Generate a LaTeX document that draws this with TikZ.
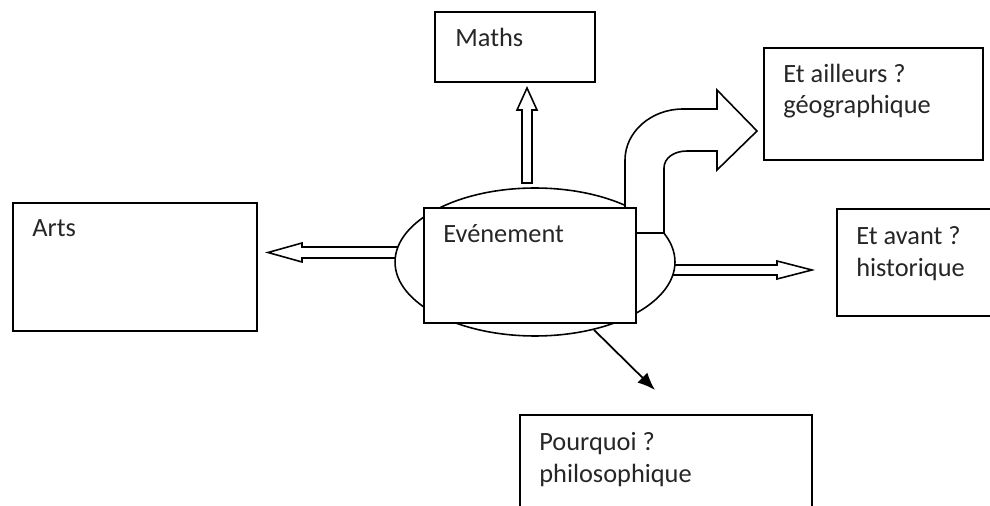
\documentclass[tikz,border=0pt]{standalone}
\usepackage{fontspec}
\setmainfont{Carlito}
\usetikzlibrary{shapes.geometric, arrows.meta}

\tikzset{
    box/.style={draw, line width=0.9pt, rectangle, inner sep=0pt, anchor=north west, fill=white},
    txt/.style={anchor=base west, inner sep=0pt, text=black!85, font=\fontsize{15}{18}\selectfont},
    hollow/.style={draw, line width=0.9pt, fill=white, line join=miter},
}

\begin{document}
\begin{tikzpicture}[x=0.02cm, y=-0.02cm]
    \clip (0,0) rectangle (990,506);
    \fill[white] (0,0) rectangle (990,506);

    % boxes
    \node[box, minimum width=3.2cm, minimum height=1.4cm] (maths) at (434,11) {};
    \node[box, minimum width=4.88cm, minimum height=2.56cm] (arts) at (12,202) {};
    \node[box, minimum width=4.38cm, minimum height=2.24cm] (ailleurs) at (763,47) {};
    \node[box, minimum width=3.4cm, minimum height=2.14cm] (avant) at (836,208) {};
    \node[box, minimum width=5.84cm, minimum height=2.2cm] (pourquoi) at (519,414) {};

    % block arrows
    \coordinate (upTail) at (522,183);
    \draw[hollow] (upTail) -- ++(0,-73) -- ++(-5,0) -- ++(10,-22) -- ++(10,22) -- ++(-5,0) -- ++(0,73) -- cycle;
    \coordinate (artsTail) at (400,247);
    \draw[hollow] (artsTail) -- ++(-98,0) -- ++(0,-4) -- ++(-34,9.5) -- ++(34,9.5) -- ++(0,-4) -- ++(98,0);
    \coordinate (avantTail) at (670,265);
    \draw[hollow] (avantTail) -- ++(107,0) -- ++(0,-4) -- ++(35,9) -- ++(-35,9) -- ++(0,-4) -- ++(-107,0);

    % centre
    \node[ellipse, draw, line width=0.9pt, fill=white, inner sep=0pt,
          minimum width=5.6cm, minimum height=2.96cm] (ev) at (535,262) {};
    \coordinate (geoTail) at (625,215);
    \draw[hollow] (geoTail) -- (625,160) .. controls (625,132) and (651,109) .. (683,109)
        -- (717,109) -- (717,90) -- (757,131) -- (717,170) -- (717,151) -- (687,151)
        .. controls (674,151) and (664,158) .. (664,168) -- (664,233) -- (630,233) -- cycle;
    \node[box, minimum width=4.24cm, minimum height=2.3cm] (evt) at (423,207) {};

    \coordinate (phiTip) at (655,390);
    \draw[line width=1pt, -{Latex[length=10pt,width=8pt]}] (ev.-49) -- (phiTip);

    % texts
    \node[txt] (mathsTxt) at (455,47) {Maths};
    \node[txt] (artsTxt) at (32,237) {Arts};
    \node[txt] (evtTxt) at (443,243) {Evénement};
    \node[txt] (ailleursA) at (783,83) {Et ailleurs ?};
    \node[txt] (ailleursB) at (783,114) {géographique};
    \node[txt] (avantA) at (856,245) {Et avant ?};
    \node[txt] (avantB) at (856,277) {historique};
    \node[txt] (pourquoiA) at (539,450) {Pourquoi ?};
    \node[txt] (pourquoiB) at (539,482) {philosophique};
\end{tikzpicture}
\end{document}
